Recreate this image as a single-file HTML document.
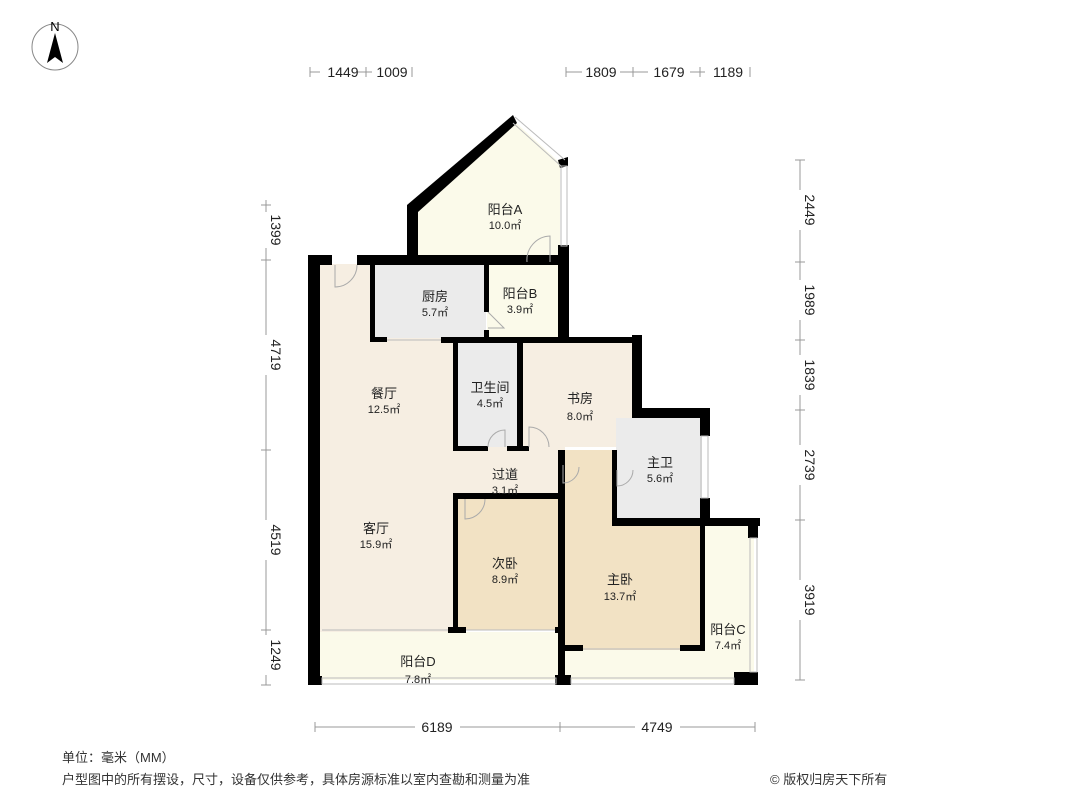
<!DOCTYPE html>
<html><head><meta charset="utf-8"><style>
html,body{margin:0;padding:0;background:#fff;}
svg{display:block;}
text{font-family:"Liberation Sans","Noto Sans CJK SC",sans-serif;}
</style></head><body>
<svg width="1066" height="800" viewBox="0 0 1066 800" xmlns="http://www.w3.org/2000/svg">
<circle cx="55" cy="47" r="23" fill="none" stroke="#888" stroke-width="1"/>
<text x="55" y="31" font-size="13" text-anchor="middle" fill="#000">N</text>
<polygon points="55,33 47,63 55,57 63,63" fill="#000"/>

<polygon points="418,205 513,120 560,163 560,262 418,262" fill="#fbfaea"/>
<rect x="320" y="264" width="140" height="368" fill="#f6eee2"/>
<rect x="455" y="447" width="110" height="50" fill="#f6eee2"/>
<rect x="372" y="264" width="114" height="74" fill="#ebebeb"/>
<rect x="487" y="264" width="74" height="74" fill="#fbfaea"/>
<rect x="457" y="342" width="62" height="105" fill="#ebebeb"/>
<rect x="522" y="342" width="112" height="105" fill="#f6eee2"/>
<rect x="616" y="418" width="86" height="102" fill="#ebebeb"/>
<rect x="458" y="498" width="100" height="132" fill="#f2e2c4"/>
<polygon points="563,450 616,450 616,522 702,522 702,650 563,650" fill="#f2e2c4"/>
<rect x="702" y="522" width="52" height="158" fill="#fbfaea"/>
<rect x="563" y="650" width="140" height="30" fill="#fbfaea"/>
<rect x="320" y="632" width="240" height="48" fill="#fbfaea"/>

<g fill="#000">
<rect x="308" y="255" width="12" height="430"/>
<rect x="308" y="255" width="24" height="10"/>
<rect x="357" y="255" width="210" height="10"/>
<rect x="407" y="205" width="11" height="55"/>
<polygon points="407,205 513,115 517,123 418,212"/>
<polygon points="558,160 568,157 568,166 560,168"/>
<rect x="558" y="245" width="11" height="98"/>
<rect x="370" y="264" width="5" height="78"/>
<rect x="370" y="337" width="17" height="5"/>
<rect x="441" y="337" width="200" height="6"/>
<rect x="484" y="264" width="5" height="48"/>
<rect x="484" y="330" width="5" height="10"/>
<rect x="632" y="335" width="10" height="80"/>
<rect x="632" y="408" width="78" height="10"/>
<rect x="700" y="408" width="10" height="28"/>
<rect x="700" y="498" width="10" height="27"/>
<rect x="453" y="342" width="5" height="108"/>
<rect x="517" y="342" width="6" height="108"/>
<rect x="453" y="446" width="35" height="5"/>
<rect x="507" y="446" width="22" height="5"/>
<rect x="612" y="450" width="5" height="75"/>
<rect x="612" y="518" width="148" height="8"/>
<rect x="748" y="518" width="10" height="20"/>
<rect x="558" y="450" width="7" height="235"/>
<rect x="453" y="493" width="5" height="140"/>
<rect x="453" y="493" width="107" height="6"/>
<rect x="448" y="627" width="18" height="6"/>
<rect x="555" y="627" width="5" height="6"/>
<rect x="563" y="645" width="20" height="6"/>
<rect x="680" y="645" width="22" height="6"/>
<rect x="700" y="525" width="5" height="126"/>
<rect x="555" y="675" width="16" height="10"/>
<rect x="734" y="672" width="24" height="13"/>
<rect x="308" y="676" width="14" height="9"/>
</g>

<g stroke="#bbb" stroke-width="1" fill="none">
<line x1="515" y1="117" x2="565" y2="160"/><line x1="513" y1="123" x2="561" y2="166"/>
<rect x="561" y="166" width="6" height="80"/>
<rect x="701" y="436" width="7" height="62"/>
<rect x="750" y="538" width="7" height="134"/>
<rect x="322" y="678" width="234" height="6"/>
<rect x="571" y="678" width="163" height="6"/>
<line x1="322" y1="630" x2="448" y2="630"/>
<line x1="466" y1="630" x2="555" y2="630"/>
<line x1="583" y1="649" x2="680" y2="649"/>
<line x1="387" y1="340" x2="441" y2="340"/>
</g>

<g stroke="#aaa" stroke-width="1" fill="none">
<path d="M335,265 L335,287 A22,22 0 0 0 357,265"/>
<path d="M550,262 L550,236 A24,24 0 0 0 527,262"/>
<path d="M488,312 L504,328 L488,328"/>
<path d="M505,447 L505,430 A17,17 0 0 0 488,447"/>
<path d="M529,447 L529,427 A20,20 0 0 1 549,447"/>
<path d="M465,499 L465,519 A20,20 0 0 0 485,499"/>
<path d="M563,465 L563,483 A16,16 0 0 0 579,467"/>
<path d="M617,470 L617,486 A16,16 0 0 0 633,470"/>
</g>

<g font-size="13" fill="#222" text-anchor="middle">
<text x="505" y="214">阳台A</text><text x="505" y="229" font-size="11">10.0㎡</text>
<text x="435" y="301">厨房</text><text x="435" y="316" font-size="11">5.7㎡</text>
<text x="520" y="298">阳台B</text><text x="520" y="313" font-size="11">3.9㎡</text>
<text x="384" y="398">餐厅</text><text x="384" y="413" font-size="11">12.5㎡</text>
<text x="490" y="392">卫生间</text><text x="490" y="407" font-size="11">4.5㎡</text>
<text x="580" y="403">书房</text><text x="580" y="420" font-size="11">8.0㎡</text>
<text x="505" y="479">过道</text><text x="505" y="494" font-size="11">3.1㎡</text>
<text x="660" y="467">主卫</text><text x="660" y="482" font-size="11">5.6㎡</text>
<text x="376" y="533">客厅</text><text x="376" y="548" font-size="11">15.9㎡</text>
<text x="505" y="568">次卧</text><text x="505" y="583" font-size="11">8.9㎡</text>
<text x="620" y="584">主卧</text><text x="620" y="600" font-size="11">13.7㎡</text>
<text x="728" y="634">阳台C</text><text x="728" y="649" font-size="11">7.4㎡</text>
<text x="418" y="666">阳台D</text><text x="418" y="683" font-size="11">7.8㎡</text>
</g>

<g stroke="#999" stroke-width="1">
<line x1="310" y1="72" x2="320" y2="72"/><line x1="310" y1="67" x2="310" y2="77"/>
<line x1="356" y1="72" x2="372" y2="72"/><line x1="366" y1="67" x2="366" y2="77"/><line x1="412" y1="67" x2="412" y2="77"/>
<line x1="566" y1="72" x2="582" y2="72"/><line x1="566" y1="67" x2="566" y2="77"/>
<line x1="620" y1="72" x2="648" y2="72"/><line x1="633" y1="67" x2="633" y2="77"/>
<line x1="690" y1="72" x2="705" y2="72"/><line x1="700" y1="67" x2="700" y2="77"/><line x1="750" y1="67" x2="750" y2="77"/>
<line x1="266" y1="200" x2="266" y2="212"/><line x1="266" y1="248" x2="266" y2="335"/><line x1="266" y1="375" x2="266" y2="520"/><line x1="266" y1="560" x2="266" y2="635"/><line x1="266" y1="675" x2="266" y2="685"/>
<line x1="261" y1="205" x2="271" y2="205"/><line x1="261" y1="260" x2="271" y2="260"/><line x1="261" y1="450" x2="271" y2="450"/><line x1="261" y1="630" x2="271" y2="630"/><line x1="261" y1="685" x2="271" y2="685"/>
<line x1="800" y1="160" x2="800" y2="190"/><line x1="800" y1="230" x2="800" y2="280"/><line x1="800" y1="320" x2="800" y2="355"/><line x1="800" y1="395" x2="800" y2="445"/><line x1="800" y1="485" x2="800" y2="580"/><line x1="800" y1="620" x2="800" y2="680"/>
<line x1="795" y1="160" x2="805" y2="160"/><line x1="795" y1="262" x2="805" y2="262"/><line x1="795" y1="340" x2="805" y2="340"/><line x1="795" y1="410" x2="805" y2="410"/><line x1="795" y1="520" x2="805" y2="520"/><line x1="795" y1="680" x2="805" y2="680"/>
<line x1="315" y1="727" x2="415" y2="727"/><line x1="460" y1="727" x2="635" y2="727"/><line x1="680" y1="727" x2="755" y2="727"/>
<line x1="315" y1="722" x2="315" y2="732"/><line x1="560" y1="722" x2="560" y2="732"/><line x1="755" y1="722" x2="755" y2="732"/>
</g>
<g font-size="14" fill="#222" text-anchor="middle">
<text x="343" y="77">1449</text><text x="392" y="77">1009</text>
<text x="601" y="77">1809</text><text x="669" y="77">1679</text><text x="728" y="77">1189</text>
<text x="437" y="732">6189</text><text x="657" y="732">4749</text>
<text transform="translate(271,230) rotate(90)">1399</text>
<text transform="translate(271,355) rotate(90)">4719</text>
<text transform="translate(271,540) rotate(90)">4519</text>
<text transform="translate(271,655) rotate(90)">1249</text>
<text transform="translate(805,210) rotate(90)">2449</text>
<text transform="translate(805,300) rotate(90)">1989</text>
<text transform="translate(805,375) rotate(90)">1839</text>
<text transform="translate(805,465) rotate(90)">2739</text>
<text transform="translate(805,600) rotate(90)">3919</text>
</g>

<g font-size="13" fill="#333">
<text x="62" y="762">单位：毫米（MM）</text>
<text x="62" y="784">户型图中的所有摆设，尺寸，设备仅供参考，具体房源标准以室内查勘和测量为准</text>
<text x="770" y="784">© 版权归房天下所有</text>
</g>
</svg>
</body></html>
